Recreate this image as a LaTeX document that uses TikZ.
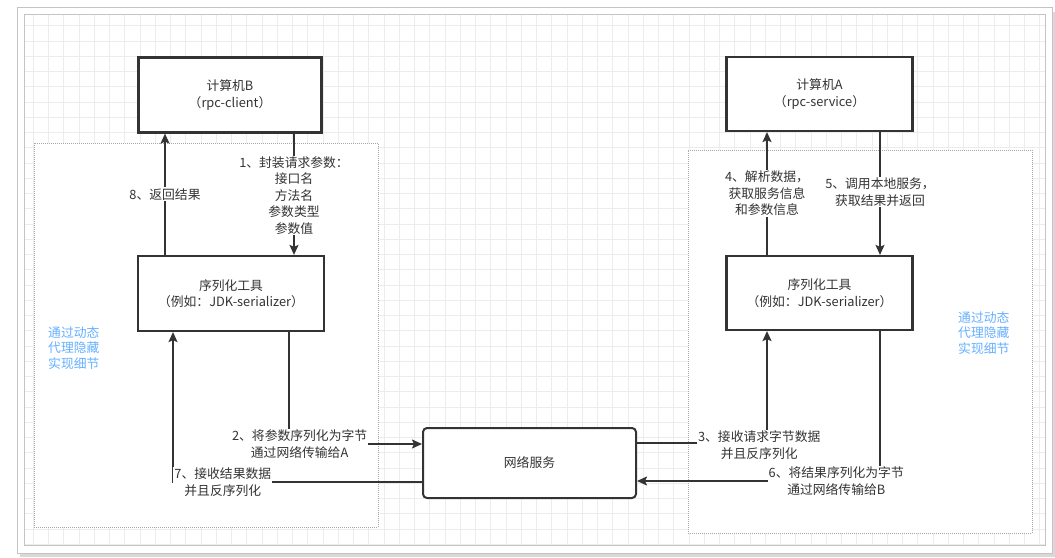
\documentclass[tikz,border=0pt]{standalone}
\usepackage{fontspec}
\setmainfont{Noto Sans CJK SC}
\usetikzlibrary{arrows.meta,positioning,calc}
\definecolor{inkgray}{HTML}{333333}
\definecolor{gridgray}{HTML}{ECECEC}
\definecolor{framegray}{HTML}{C4C4C4}
\definecolor{zonegray}{HTML}{A8A8A8}
\definecolor{hintblue}{HTML}{66B0FF}

\begin{document}
\begin{tikzpicture}[
  x=1pt, y=-1pt,
  >={Stealth[length=10pt,width=9pt,inset=2pt]},
  every node/.style={font=\fontsize{12.8}{16.5}\selectfont, text=inkgray},
  gridline/.style={draw=gridgray, line width=.8pt},
  zone/.style={draw=zonegray, fill=white, line width=1pt, dash pattern=on 1pt off 1pt},
  machine/.style={draw=black!80, fill=white, line width=2.2pt, minimum width=186pt, minimum height=75pt, align=center},
  netbox/.style={draw=black!80, fill=white, line width=2pt, rounded corners=4pt, minimum width=213pt, minimum height=70pt},
  flow/.style={->, draw=inkgray, line width=1.7pt},
  lbl/.style={fill=white, align=center, inner sep=1pt},
  hint/.style={text=hintblue, align=left, inner sep=0pt, font=\fontsize{12.8}{15.7}\selectfont}
]
  \useasboundingbox (0,0) rectangle (1055,557);
  \fill[black!15] (20,12) rectangle (1055,557);
  \draw[framegray, fill=white, line width=1pt] (17,7) rectangle (1052,553);
  \draw[framegray, line width=1pt] (24,14) rectangle (1045,545);
  \foreach \i in {0,...,66}
    \draw[gridline] ({33.3+15.25*\i},14.5) -- ({33.3+15.25*\i},544.5);
  \foreach \j in {0,...,34}
    \draw[gridline] (24.5,{25.7+15.25*\j}) -- (1044.5,{25.7+15.25*\j});

  \node[zone, minimum width=344pt, minimum height=384pt] (zoneB) at (206,335) {};
  \node[zone, minimum width=344pt, minimum height=383pt] (zoneA) at (860,341.5) {};

  \node[machine, minimum width=183pt] (compB) at (230,95) {计算机B\\（rpc-client）};
  \node[machine] (serB) at (231,293.5) {序列化工具\\（例如：JDK-serializer）};
  \node[machine, minimum height=74pt] (compA) at (819.5,94) {计算机A\\（rpc-service）};
  \node[machine, minimum height=74pt] (serA) at (819.5,293) {序列化工具\\（例如：JDK-serializer）};
  \node[netbox] (net) at (529.5,463) {网络服务};

  \node[hint, anchor=west] (hintB) at (48,348) {通过动态\\代理隐藏\\实现细节};
  \node[hint, anchor=west] (hintA) at (958,333) {通过动态\\代理隐藏\\实现细节};

  \draw[flow] ([xshift=64pt]compB.south) -- ([xshift=64pt]compB.south |- serB.north)
    node[lbl, pos=.51] {1、封装请求参数：\\接口名\\方法名\\参数类型\\参数值};
  \draw[flow] ([xshift=58pt]serB.south) |- ([yshift=19pt]net.west)
    node[lbl, pos=.54] {2、将参数序列化为字节\\通过网络传输给A};
  \draw[flow] ([yshift=20pt]net.east) -| ([xshift=-52.5pt]serA.south)
    node[lbl, pos=.47, yshift=-2pt] {3、接收请求字节数据\\并且反序列化};
  \draw[flow] ([xshift=-52.5pt]serA.north) -- ([xshift=-52.5pt]serA.north |- compA.south)
    node[lbl, pos=.5] {4、解析数据，\\获取服务信息\\和参数信息};
  \draw[flow] ([xshift=60.5pt]compA.south) -- ([xshift=60.5pt]compA.south |- serA.north)
    node[lbl, pos=.49] {5、调用本地服务，\\获取结果并返回};
  \draw[flow] ([xshift=60.5pt]serA.south) |- ([yshift=-18pt]net.east)
    node[lbl, pos=.59] {6、将结果序列化为字节\\通过网络传输给B};
  \draw[flow] ([yshift=-19pt]net.west) -| ([xshift=-58pt]serB.south)
    node[lbl, pos=.4] {7、接收结果数据\\并且反序列化};
  \draw[flow] ([xshift=-66pt]serB.north) -- ([xshift=-66pt]serB.north |- compB.south)
    node[lbl, pos=.5] {8、返回结果};
\end{tikzpicture}
\end{document}
